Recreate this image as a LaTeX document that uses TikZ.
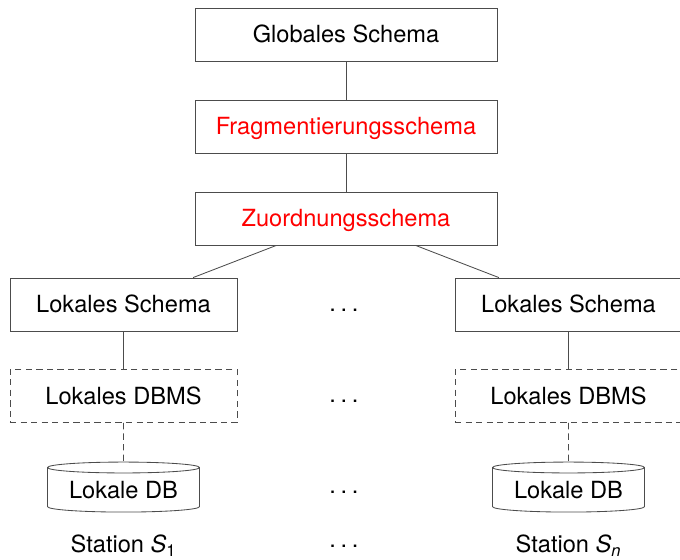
\documentclass[tikz,border=0pt]{standalone}
\usepackage{fontspec}
\setmainfont{TeX Gyre Heros}
\usetikzlibrary{shapes.geometric,positioning}

\begin{document}
\begin{tikzpicture}[x=0.025cm, y=-0.025cm,
    txt/.style={font=\fontsize{16.8}{20}\selectfont, text height=0.4cm, text depth=0pt, inner sep=0pt},
    box/.style={txt, draw=black!70, line width=0.6pt},
    wide/.style={box, minimum width=7.55cm, minimum height=1.325cm},
    local/.style={box, minimum width=5.675cm, minimum height=1.325cm},
    sys/.style={local, dash pattern=on 4.5pt off 3pt},
    db/.style={box, cylinder, shape border rotate=90, aspect=0.1, minimum width=3.8cm, minimum height=1.25cm},
    link/.style={draw=black!70, line width=0.6pt}]
    \clip (0,0) rectangle (680,560);

    % Global schemas
    \node[wide] (gs) at (346,34.5) {Globales Schema};
    \node[wide, text=red] (fs) at (346,126.5) {Fragmentierungsschema};
    \node[wide, text=red] (zs) at (346,218.5) {Zuordnungsschema};

    % Station 1
    \node[local] (ls1) at (123.5,304.5) {Lokales Schema};
    \node[sys] (dbms1) at (123.5,396) {Lokales DBMS};
    \node[db] (db1) at (123.5,490) {Lokale DB};
    \node[txt] (st1) at (123.5,544.5) {Station \textit{S}\textsubscript{1}};

    % Station n
    \node[local] (lsn) at (568.5,304.5) {Lokales Schema};
    \node[sys] (dbmsn) at (568.5,396) {Lokales DBMS};
    \node[db] (dbn) at (568.5,490) {Lokale DB};
    \node[txt] (stn) at (568.5,544.5) {Station \textit{S}\textsubscript{\textit{n}}};

    % Dots between the stations
    \foreach \y/\n in {303/a, 394/b, 485/c, 539/d}
        \node[txt] (dots\n) at (344,\y) {.\kern0.2em.\kern0.2em.};

    % Links
    \draw[link] (gs) -- (fs);
    \draw[link] (fs) -- (zs);
    \draw[link] (zs) -- (ls1);
    \draw[link] (zs) -- (lsn);
    \draw[link] (ls1) -- (dbms1);
    \draw[link] (lsn) -- (dbmsn);
    \draw[link, dash pattern=on 4.5pt off 3pt] (dbms1) -- (db1);
    \draw[link, dash pattern=on 4.5pt off 3pt] (dbmsn) -- (dbn);
\end{tikzpicture}
\end{document}
